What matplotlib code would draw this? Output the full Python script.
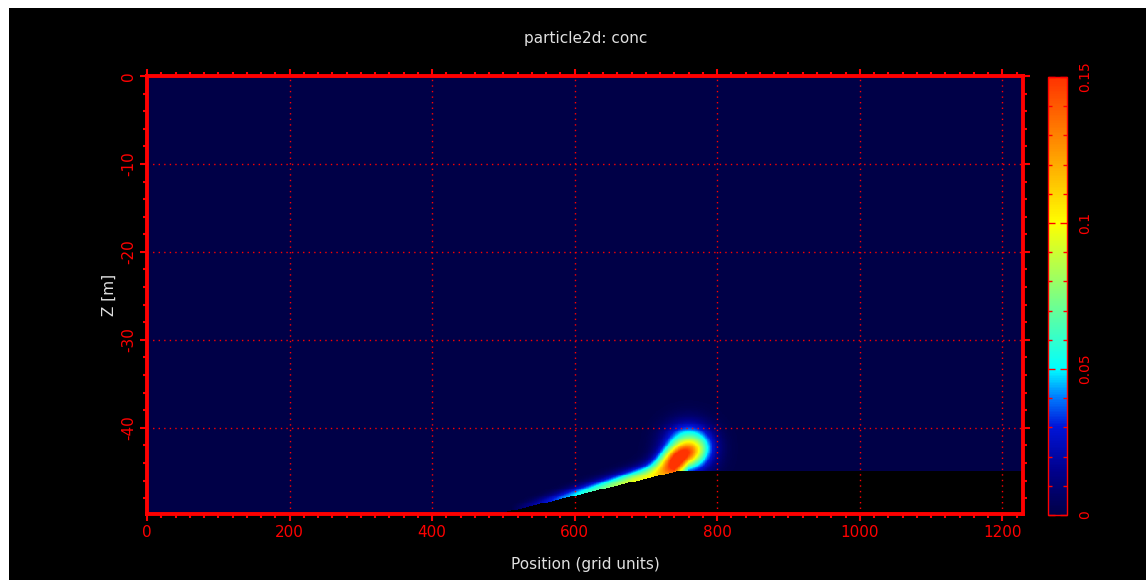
import numpy as np
import matplotlib
matplotlib.use('Agg')
import matplotlib.pyplot as plt
from matplotlib.colors import LinearSegmentedColormap
from matplotlib.patches import Rectangle
from matplotlib.ticker import MultipleLocator

plt.rcParams['axes.unicode_minus'] = False
plt.rcParams['font.family'] = 'DejaVu Sans'

# domain (grid units, metres)
x_max = 1229
z_min = -49.8
dx, dz = 1.0, 0.1

# bottom terrain: flat at the left, ramp, shelf on the right
ramp_start_x, ramp_start_z = 495, -49.8
ramp_end_x, shelf_z = 748, -44.9

# plume head / core / tail
head_x, head_z, head_sx, head_sz, head_peak = 760, -42.4, 22, 1.75, 0.085
core_x, core_z, core_along, core_across, core_peak, core_slope = 745, -43.4, 20, 0.95, 0.09, 0.025
tail_x0, tail_rate, tail_peak, tail_end = 510, 0.00055, 0.095, 740

cb_ticks = [0, 0.05, 0.1, 0.15]
cb_labels = ['0', '0.05', '0.1', '0.15']

x = np.arange(0, x_max + dx, dx)
z = np.arange(z_min, 0 + dz, dz)
X, Z = np.meshgrid(x, z)

terrain = np.where(X < ramp_start_x, ramp_start_z,
                   np.where(X > ramp_end_x, shelf_z,
                            ramp_start_z + (X - ramp_start_x) * (shelf_z - ramp_start_z) / (ramp_end_x - ramp_start_x)))

conc = head_peak * np.exp(-0.5 * (((X - head_x) / head_sx) ** 2 + ((Z - head_z) / head_sz) ** 2))
s = X - core_x
n = (Z - core_z) - core_slope * s
conc += core_peak * np.exp(-0.5 * ((s / core_along) ** 2 + (n / core_across) ** 2))
h = Z - terrain
amp = np.clip(tail_rate * (X - tail_x0), 0, tail_peak)
amp = amp * np.clip((tail_end + 20 - X) / 20, 0, 1)
thick = 0.5 + 1.0 * np.clip((X - ramp_start_x) / (ramp_end_x - ramp_start_x), 0, 1)
conc += amp * np.exp(-(np.clip(h, 0, None) / thick) ** 2)
conc = np.ma.masked_where(Z < terrain, conc)

cmap = LinearSegmentedColormap.from_list('idl', [
    (0.00, (0.0, 0.0, 0.28)),
    (0.10, (0.0, 0.0, 0.55)),
    (0.20, (0.0, 0.08, 0.85)),
    (0.27, (0.0, 0.50, 1.0)),
    (0.333, (0.0, 1.0, 1.0)),
    (0.50, (0.5, 1.0, 0.5)),
    (0.667, (1.0, 1.0, 0.0)),
    (0.83, (1.0, 0.6, 0.0)),
    (1.00, (1.0, 0.2, 0.0)),
])
cmap.set_bad('black')

fig = plt.figure(figsize=(11.46, 5.80), dpi=100, facecolor='white')
fig.add_artist(Rectangle((9 / 1146, 0), 1, 1 - 8 / 580, transform=fig.transFigure,
                         facecolor='black', edgecolor='none', zorder=-10))

ax = fig.add_axes([147 / 1146, 1 - 514 / 580, 876 / 1146, 438 / 580])
ax.set_facecolor('black')
im = ax.imshow(conc, origin='lower', extent=[0, x_max, z_min, 0], aspect='auto',
               cmap=cmap, vmin=0, vmax=0.15, interpolation='nearest')
ax.set_xlim(0, x_max)
ax.set_ylim(z_min, 0)

ax.xaxis.set_major_locator(MultipleLocator(200))
ax.xaxis.set_minor_locator(MultipleLocator(20))
ax.yaxis.set_major_locator(MultipleLocator(10))
ax.yaxis.set_minor_locator(MultipleLocator(2))
ax.tick_params(which='both', direction='out', colors='red', top=True, right=True,
               labelsize=11)
ax.tick_params(which='major', length=5, width=1.5)
ax.tick_params(which='minor', length=3, width=1.5)
ax.tick_params(axis='x', pad=3)
ax.tick_params(axis='y', pad=3)
for lab in ax.get_yticklabels():
    lab.set_rotation(90)
    lab.set_va('center')
for sp in ax.spines.values():
    sp.set_color('red')
    sp.set_linewidth(2.8)
ax.grid(True, which='major', color='red', linestyle=(0, (1, 3)), linewidth=1)

ax.set_xlabel('Position (grid units)', color='#e0e0e0', fontsize=11, labelpad=12)
ax.set_ylabel('Z [m]', color='#e0e0e0', fontsize=11, labelpad=3)
fig.text(586 / 1146, 1 - 38 / 580, 'particle2d: conc', color='#e0e0e0', fontsize=11,
         ha='center', va='center')

cax = fig.add_axes([1048 / 1146, 1 - 515 / 580, 19 / 1146, 438 / 580])
cb = fig.colorbar(im, cax=cax)
cb.set_ticks(cb_ticks)
cb.set_ticklabels(cb_labels)
cax.yaxis.set_minor_locator(MultipleLocator(0.01))
cax.tick_params(which='both', direction='in', colors='red', left=True, right=True,
                labelsize=10, pad=8)
cax.tick_params(which='major', length=5, width=1)
cax.tick_params(which='minor', length=3, width=1)
for lab in cax.get_yticklabels():
    lab.set_rotation(90)
    lab.set_va('center')
cb.outline.set_edgecolor('red')
cb.outline.set_linewidth(1)

fig.savefig('out.png', dpi=100, facecolor=fig.get_facecolor())
